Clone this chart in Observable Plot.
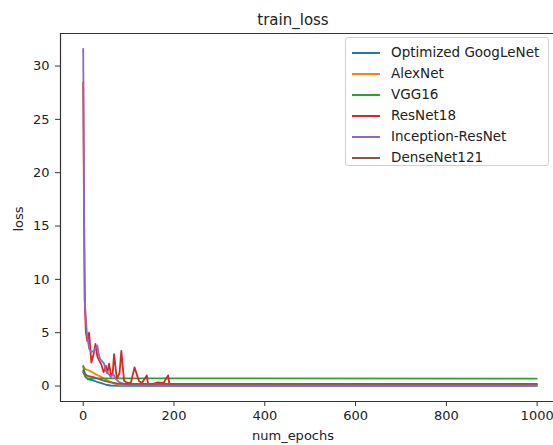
<!DOCTYPE html>
<html>
<head>
<meta charset="utf-8">
<script src="https://cdn.jsdelivr.net/npm/d3@7"></script>
<script src="https://cdn.jsdelivr.net/npm/@observablehq/plot@0.6"></script>
<style>
  html, body { margin: 0; padding: 0; background: #fff; }
  #wrap { position: relative; width: 553px; height: 445px; overflow: hidden; font-family: "DejaVu Sans", sans-serif; color: #222; }
  .title { position: absolute; left: 243px; width: 100px; top: 11px; text-align: center; font-size: 15px; }
  .xlab { position: absolute; left: 243px; width: 100px; top: 428px; text-align: center; font-size: 13px; }
  .ylab { position: absolute; left: 18px; top: 219px; font-size: 13px; transform: translate(-50%, -50%) rotate(-90deg); }
  .legend { position: absolute; left: 345px; top: 37px; width: 204px; height: 129px; border: 1px solid #d0d0d0; border-radius: 3px; background: rgba(255,255,255,0.85); box-sizing: border-box; }
  .row { position: absolute; left: 0; height: 21px; width: 100%; font-size: 13.5px; }
  .row .sw { position: absolute; left: 6px; top: 10px; width: 28px; height: 0; border-top: 2px solid; }
  .row .lb { position: absolute; left: 45px; top: 2px; white-space: nowrap; }
</style>
</head>
<body>
<div id="wrap"></div>
<script>
const seriesNames = ["Optimized GoogLeNet", "AlexNet", "VGG16", "ResNet18", "Inception-ResNet", "DenseNet121"];
const seriesColors = ["#1f77b4", "#ff7f0e", "#2ca02c", "#d62728", "#9467bd", "#8c564b"];
const xTicks = [0, 200, 400, 600, 800, 1000];
const yTicks = [0, 5, 10, 15, 20, 25, 30];

const googlenetEpochs = [0, 5, 10, 20, 30, 40, 50, 60, 80, 100, 130, 200, 999];
const googlenetLoss   = [1.3, 0.85, 0.65, 0.55, 0.4, 0.28, 0.12, 0.05, 0.02, 0.02, 0.01, 0.01, 0.01];

const alexnetEpochs = [0, 5, 10, 20, 30, 40, 50, 60, 70, 80, 100, 999];
const alexnetLoss   = [1.8, 1.6, 1.5, 1.3, 1.05, 0.85, 0.6, 0.4, 0.2, 0.12, 0.1, 0.1];

const vggEpochs = [0, 3, 6, 10, 999];
const vggLoss   = [1.9, 1.2, 0.8, 0.72, 0.7];

const resnetEpochs = [0, 2, 4, 6, 9, 13, 18, 23, 27, 31, 35, 40, 45, 50, 53, 57, 61, 65, 68, 74, 80, 84, 90, 97, 105, 113, 123, 130, 140, 143, 155, 164, 172, 178, 187, 190, 200, 999];
const resnetLoss   = [28.5, 15, 7, 5.0, 4.2, 5.0, 2.2, 3.0, 3.95, 2.8, 2.4, 2.0, 1.3, 1.9, 1.2, 2.1, 1.0, 1.2, 3.0, 0.7, 1.2, 3.3, 0.5, 0.3, 0.3, 1.75, 0.45, 0.3, 1.0, 0.15, 0.2, 0.35, 0.3, 0.35, 1.0, 0.15, 0.2, 0.2];

const inceptionEpochs = [0, 2, 3, 5, 8, 13, 18, 24, 31, 35, 38, 46, 50, 53, 61, 66, 72, 79, 90, 100, 150, 999];
const inceptionLoss   = [31.6, 17.4, 8.0, 7.0, 5.0, 3.5, 3.2, 3.3, 3.8, 2.8, 2.5, 2.1, 1.4, 1.3, 0.85, 1.1, 0.65, 0.36, 0.2, 0.1, 0.05, 0.05];

const densenetEpochs = [0, 5, 10, 25, 45, 60, 77, 100, 999];
const densenetLoss   = [1.45, 1.1, 0.95, 0.8, 0.5, 0.35, 0.22, 0.2, 0.2];

const seriesEpochs = [googlenetEpochs, alexnetEpochs, vggEpochs, resnetEpochs, inceptionEpochs, densenetEpochs];
const seriesLoss = [googlenetLoss, alexnetLoss, vggLoss, resnetLoss, inceptionLoss, densenetLoss];

const rows = [];
seriesNames.forEach((name, i) => {
  seriesEpochs[i].forEach((e, j) => rows.push({series: name, epoch: e, loss: seriesLoss[i][j]}));
});

const xDomain = [-50, 1036];
const yDomain = [-1.45, 33.05];

const font = {fontFamily: "DejaVu Sans, sans-serif", fontSize: "13px"};

const chart = Plot.plot({
  width: 553,
  height: 445,
  marginLeft: 60,
  marginRight: 0,
  marginTop: 33,
  marginBottom: 44,
  style: {background: "white", color: "#222", ...font},
  x: {domain: xDomain},
  y: {domain: yDomain},
  color: {domain: seriesNames, range: seriesColors},
  marks: [
    Plot.axisX({ticks: xTicks, tickFormat: d3.format("d"), tickSize: 5, tickPadding: 4, label: null, fontSize: 13, stroke: "#333"}),
    Plot.axisY({ticks: yTicks, tickFormat: d3.format("d"), tickSize: 5, tickPadding: 6, label: null, fontSize: 13, stroke: "#333"}),
    Plot.ruleX([xDomain[0]], {stroke: "#333", strokeWidth: 1.2}),
    Plot.ruleY([yDomain[0], yDomain[1]], {stroke: "#333", strokeWidth: 1.2}),
    Plot.line(rows, {x: "epoch", y: "loss", z: "series", stroke: "series", strokeWidth: 1.8, strokeLinejoin: "round"})
  ]
});

const wrap = document.getElementById("wrap");
wrap.appendChild(chart);

const title = document.createElement("div");
title.className = "title"; title.textContent = "train_loss";
wrap.appendChild(title);
const xl = document.createElement("div");
xl.className = "xlab"; xl.textContent = "num_epochs";
wrap.appendChild(xl);
const yl = document.createElement("div");
yl.className = "ylab"; yl.textContent = "loss";
wrap.appendChild(yl);

const leg = document.createElement("div");
leg.className = "legend";
seriesNames.forEach((name, i) => {
  const r = document.createElement("div");
  r.className = "row";
  r.style.top = (4 + i * 21) + "px";
  r.innerHTML = `<span class="sw" style="border-color:${seriesColors[i]}"></span><span class="lb">${name}</span>`;
  leg.appendChild(r);
});
wrap.appendChild(leg);
</script>
</body>
</html>
